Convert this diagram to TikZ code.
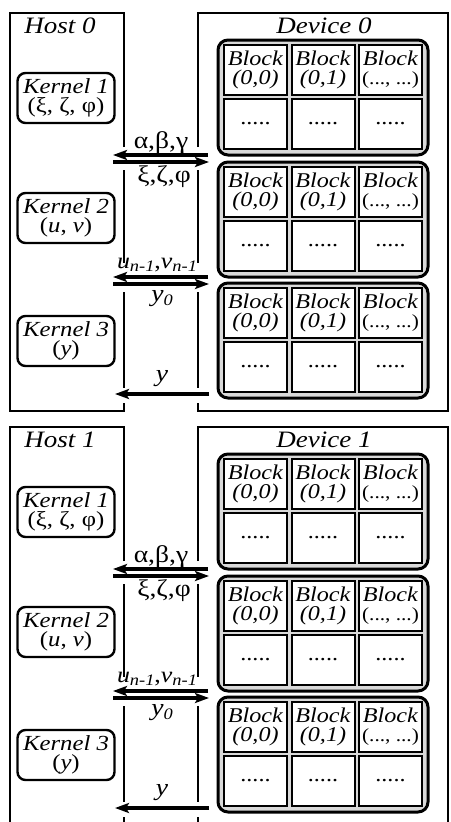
\documentclass[tikz,border=0pt]{standalone}
\usepackage{fontspec}
\setmainfont{Liberation Serif}[FakeStretch=1.15]
\usetikzlibrary{arrows.meta}
\newcommand\lowidx[1]{\raisebox{-0.35ex}{\fontsize{16}{16}\selectfont\textit{#1}}}
\tikzset{
  frame/.style={line width=2pt},
  kernel/.style={draw, line width=2.4pt, rounded corners=8pt, minimum width=97pt,
    minimum height=50pt, inner sep=0pt, align=center, font=\fontsize{21.5}{19.5}\selectfont},
  grp/.style={draw, line width=3pt, rounded corners=10pt, fill=black!15,
    minimum width=210pt, minimum height=115pt, inner sep=0pt},
  cell/.style={draw, line width=2pt, fill=white, minimum width=63pt, minimum height=50pt,
    inner sep=0pt, align=center, font=\fontsize{21}{19}\selectfont},
  title/.style={inner sep=0pt, font=\fontsize{23.5}{23.5}\selectfont\itshape},
  lbl/.style={inner sep=0pt, font=\fontsize{24}{24}\selectfont},
  xfer/.style={line width=4pt, -{Stealth[length=14pt, width=10pt, inset=3pt]}}
}
% #1 suffix, #2 group top y
\newcommand\blockgroup[2]{%
  \node[grp] (g#1) at (323,#2+57.5) {};
  \node[cell] (c#1a) at (255.5,#2+29.5) {\textit{Block}\\\textit{(0,0)}};
  \node[cell] (c#1b) at (323,#2+29.5) {\textit{Block}\\\textit{(0,1)}};
  \node[cell] (c#1c) at (390.5,#2+29.5) {\textit{Block}\\{\fontsize{18.5}{19}\selectfont(..., ...)}};
  \node[cell] (d#1a) at (255.5,#2+84) {.....};
  \node[cell] (d#1b) at (323,#2+84) {.....};
  \node[cell] (d#1c) at (390.5,#2+84) {.....};
}
% #1 panel id
\newcommand\panelcontent[1]{%
  \node[title] (host#1) at (60,26) {Host #1};
  \node[title] (dev#1) at (324,26) {Device #1};
  \node[kernel] (k#1a) at (66,98) {\textit{Kernel 1}\\(ξ, ζ, φ)};
  \node[kernel] (k#1b) at (66,218) {\textit{Kernel 2}\\(\textit{u}, \textit{v})};
  \node[kernel] (k#1c) at (66,341) {\textit{Kernel 3}\\(\textit{y})};
  \blockgroup{#1x}{40}
  \blockgroup{#1y}{162}
  \blockgroup{#1z}{283}
  % host/device gaps
  \draw[frame] (124,170) -- (124,263) (124,292) -- (124,388);
  \draw[frame] (198,170) -- (198,263) (198,292) -- (198,388);
  % transfer arrows
  \coordinate (h#1a) at (113,155); \coordinate (e#1a) at (208,155);
  \coordinate (h#1b) at (113,162); \coordinate (e#1b) at (209,162);
  \coordinate (h#1c) at (113,277); \coordinate (e#1c) at (208,277);
  \coordinate (h#1d) at (113,284); \coordinate (e#1d) at (209,284);
  \coordinate (h#1e) at (115,394); \coordinate (e#1e) at (209,394);
  \draw[xfer] (e#1a) -- (h#1a);
  \draw[xfer] (h#1b) -- (e#1b);
  \draw[xfer] (e#1c) -- (h#1c);
  \draw[xfer] (h#1d) -- (e#1d);
  \draw[xfer] (e#1e) -- (h#1e);
  \node[lbl] (l#1a) at (161,143) {α,β,γ};
  \node[lbl] (l#1b) at (164,177) {ξ,ζ,φ};
  \node[lbl, font=\fontsize{22.5}{22.5}\selectfont] (l#1c) at (157,265) {\textit{u}\lowidx{n-1},\textit{v}\lowidx{n-1}};
  \node[lbl] (l#1d) at (162,299) {\textit{y}\lowidx{0}};
  \node[lbl] (l#1e) at (162,379) {\textit{y}};
}
\begin{document}
\begin{tikzpicture}[x=1pt, y=-1pt]
\useasboundingbox (0,0) rectangle (450,822);
\fill[white] (0,0) rectangle (450,822);
% top panel frames
\draw[frame] (124,147) -- (124,13) -- (10,13) -- (10,411) -- (124,411) -- (124,403);
\draw[frame] (198,147) -- (198,13) -- (448,13) -- (448,411) -- (198,411) -- (198,403);
\panelcontent{0}
\begin{scope}[shift={(0,414)}]
\draw[frame] (124,147) -- (124,13) -- (10,13) -- (10,408.5);
\draw[frame] (124,403) -- (124,408.5);
\draw[frame] (198,147) -- (198,13) -- (448,13) -- (448,408.5);
\draw[frame] (198,403) -- (198,408.5);
\panelcontent{1}
\end{scope}
\end{tikzpicture}
\end{document}
